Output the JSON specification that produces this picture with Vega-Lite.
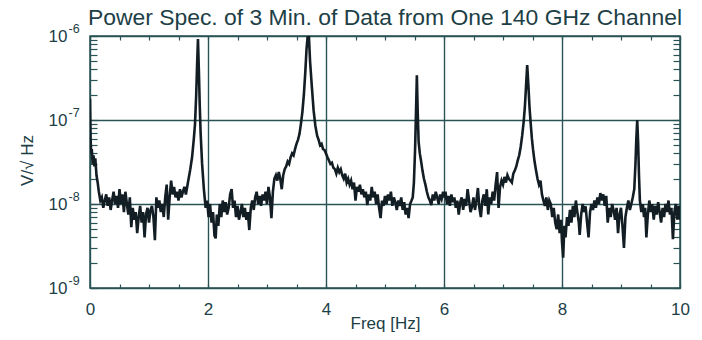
{
  "$schema": "https://vega.github.io/schema/vega-lite/v6.json",
  "width": 590,
  "height": 252,
  "autosize": {"type": "none"},
  "padding": {"left": 90, "top": 36, "right": 22, "bottom": 52},
  "background": "white",
  "config": {"view": {"stroke": "#2a5356", "strokeWidth": 1.5}, "font": "Liberation Sans"},
  "title": {"text": "Power Spec. of 3 Min. of Data from One 140 GHz Channel", "fontSize": 22.9, "font": "Liberation Sans", "fontWeight": "normal", "color": "#1d4046", "anchor": "middle", "frame": "group", "baseline": "alphabetic", "offset": 10, "dy": 36},
  "datasets": {
    "spectrum": [
      {"freq": 0, "amp": 180e-9}, {"freq": 0.01, "amp": 60e-9}, {"freq": 0.02, "amp": 40e-9}, {"freq": 0.03, "amp": 45e-9},
      {"freq": 0.045, "amp": 30e-9}, {"freq": 0.06, "amp": 38e-9}, {"freq": 0.075, "amp": 28e-9}, {"freq": 0.09, "amp": 35e-9},
      {"freq": 0.11, "amp": 22e-9}, {"freq": 0.13, "amp": 18e-9}, {"freq": 0.15, "amp": 14e-9}, {"freq": 0.175, "amp": 11e-9},
      {"freq": 0.2, "amp": 12e-9}, {"freq": 0.225, "amp": 9e-9}, {"freq": 0.25, "amp": 11e-9}, {"freq": 0.275, "amp": 13e-9},
      {"freq": 0.3, "amp": 9.5e-9}, {"freq": 0.325, "amp": 12e-9}, {"freq": 0.35, "amp": 8.5e-9}, {"freq": 0.375, "amp": 11e-9},
      {"freq": 0.4, "amp": 14e-9}, {"freq": 0.425, "amp": 10e-9}, {"freq": 0.45, "amp": 12.5e-9}, {"freq": 0.475, "amp": 9e-9},
      {"freq": 0.5, "amp": 15e-9}, {"freq": 0.525, "amp": 10e-9}, {"freq": 0.55, "amp": 13e-9}, {"freq": 0.575, "amp": 8e-9},
      {"freq": 0.6, "amp": 14e-9}, {"freq": 0.625, "amp": 10e-9}, {"freq": 0.65, "amp": 7.5e-9}, {"freq": 0.675, "amp": 12e-9},
      {"freq": 0.7, "amp": 5.3e-9}, {"freq": 0.725, "amp": 9e-9}, {"freq": 0.75, "amp": 6.5e-9}, {"freq": 0.775, "amp": 8e-9},
      {"freq": 0.8, "amp": 4.5e-9}, {"freq": 0.825, "amp": 7e-9}, {"freq": 0.85, "amp": 9.5e-9}, {"freq": 0.875, "amp": 6e-9},
      {"freq": 0.9, "amp": 8e-9}, {"freq": 0.925, "amp": 4e-9}, {"freq": 0.95, "amp": 7.5e-9}, {"freq": 0.975, "amp": 9e-9},
      {"freq": 1.0, "amp": 6e-9}, {"freq": 1.025, "amp": 8.5e-9}, {"freq": 1.05, "amp": 9.5e-9}, {"freq": 1.075, "amp": 7e-9},
      {"freq": 1.1, "amp": 3.7e-9}, {"freq": 1.125, "amp": 12e-9}, {"freq": 1.15, "amp": 9e-9}, {"freq": 1.175, "amp": 11e-9},
      {"freq": 1.2, "amp": 8e-9}, {"freq": 1.225, "amp": 10e-9}, {"freq": 1.25, "amp": 7e-9}, {"freq": 1.275, "amp": 12e-9},
      {"freq": 1.3, "amp": 17e-9}, {"freq": 1.325, "amp": 6.5e-9}, {"freq": 1.35, "amp": 12e-9}, {"freq": 1.375, "amp": 19e-9},
      {"freq": 1.4, "amp": 13e-9}, {"freq": 1.425, "amp": 16e-9}, {"freq": 1.45, "amp": 12e-9}, {"freq": 1.475, "amp": 14e-9},
      {"freq": 1.5, "amp": 11e-9}, {"freq": 1.525, "amp": 15e-9}, {"freq": 1.55, "amp": 12e-9}, {"freq": 1.575, "amp": 14e-9},
      {"freq": 1.6, "amp": 16e-9}, {"freq": 1.625, "amp": 13e-9}, {"freq": 1.66, "amp": 18e-9}, {"freq": 1.7, "amp": 26e-9},
      {"freq": 1.73, "amp": 36e-9}, {"freq": 1.76, "amp": 60e-9}, {"freq": 1.78, "amp": 90e-9}, {"freq": 1.8, "amp": 200e-9},
      {"freq": 1.815, "amp": 450e-9}, {"freq": 1.83, "amp": 920e-9}, {"freq": 1.845, "amp": 400e-9}, {"freq": 1.86, "amp": 150e-9},
      {"freq": 1.875, "amp": 70e-9}, {"freq": 1.9, "amp": 30e-9}, {"freq": 1.93, "amp": 15e-9}, {"freq": 1.96, "amp": 9e-9},
      {"freq": 1.985, "amp": 11e-9}, {"freq": 2.01, "amp": 7e-9}, {"freq": 2.035, "amp": 10e-9}, {"freq": 2.06, "amp": 6e-9},
      {"freq": 2.085, "amp": 8e-9}, {"freq": 2.11, "amp": 4.2e-9}, {"freq": 2.13, "amp": 3.9e-9}, {"freq": 2.15, "amp": 7.5e-9},
      {"freq": 2.175, "amp": 5.5e-9}, {"freq": 2.2, "amp": 10e-9}, {"freq": 2.225, "amp": 7e-9}, {"freq": 2.25, "amp": 11e-9},
      {"freq": 2.275, "amp": 8e-9}, {"freq": 2.3, "amp": 10.5e-9}, {"freq": 2.325, "amp": 7.5e-9}, {"freq": 2.35, "amp": 9e-9},
      {"freq": 2.375, "amp": 13e-9}, {"freq": 2.4, "amp": 15e-9}, {"freq": 2.425, "amp": 9e-9}, {"freq": 2.45, "amp": 11e-9},
      {"freq": 2.475, "amp": 7e-9}, {"freq": 2.5, "amp": 9.5e-9}, {"freq": 2.525, "amp": 6.5e-9}, {"freq": 2.55, "amp": 8e-9},
      {"freq": 2.575, "amp": 10e-9}, {"freq": 2.6, "amp": 7e-9}, {"freq": 2.625, "amp": 9e-9}, {"freq": 2.65, "amp": 6.5e-9},
      {"freq": 2.675, "amp": 8e-9}, {"freq": 2.7, "amp": 4.9e-9}, {"freq": 2.725, "amp": 9e-9}, {"freq": 2.75, "amp": 11e-9},
      {"freq": 2.775, "amp": 8.5e-9}, {"freq": 2.8, "amp": 12e-9}, {"freq": 2.825, "amp": 14e-9}, {"freq": 2.85, "amp": 10e-9},
      {"freq": 2.875, "amp": 12.5e-9}, {"freq": 2.9, "amp": 9.5e-9}, {"freq": 2.925, "amp": 13e-9}, {"freq": 2.95, "amp": 11e-9},
      {"freq": 2.975, "amp": 14e-9}, {"freq": 3.0, "amp": 10e-9}, {"freq": 3.025, "amp": 16e-9}, {"freq": 3.05, "amp": 12e-9},
      {"freq": 3.075, "amp": 6.8e-9}, {"freq": 3.1, "amp": 14e-9}, {"freq": 3.125, "amp": 20e-9}, {"freq": 3.15, "amp": 22e-9},
      {"freq": 3.175, "amp": 19e-9}, {"freq": 3.2, "amp": 24e-9}, {"freq": 3.225, "amp": 20e-9}, {"freq": 3.25, "amp": 15e-9},
      {"freq": 3.275, "amp": 22e-9}, {"freq": 3.3, "amp": 26e-9}, {"freq": 3.325, "amp": 28e-9}, {"freq": 3.35, "amp": 32e-9},
      {"freq": 3.375, "amp": 30e-9}, {"freq": 3.4, "amp": 36e-9}, {"freq": 3.425, "amp": 40e-9}, {"freq": 3.45, "amp": 38e-9},
      {"freq": 3.475, "amp": 45e-9}, {"freq": 3.5, "amp": 52e-9}, {"freq": 3.525, "amp": 58e-9}, {"freq": 3.55, "amp": 68e-9},
      {"freq": 3.575, "amp": 90e-9}, {"freq": 3.6, "amp": 125e-9}, {"freq": 3.625, "amp": 200e-9}, {"freq": 3.65, "amp": 380e-9},
      {"freq": 3.67, "amp": 700e-9}, {"freq": 3.69, "amp": 1000e-9}, {"freq": 3.71, "amp": 1000e-9}, {"freq": 3.73, "amp": 500e-9},
      {"freq": 3.76, "amp": 250e-9}, {"freq": 3.79, "amp": 130e-9}, {"freq": 3.82, "amp": 85e-9}, {"freq": 3.85, "amp": 65e-9},
      {"freq": 3.875, "amp": 58e-9}, {"freq": 3.9, "amp": 50e-9}, {"freq": 3.925, "amp": 52e-9}, {"freq": 3.95, "amp": 45e-9},
      {"freq": 3.975, "amp": 44e-9}, {"freq": 4.0, "amp": 40e-9}, {"freq": 4.025, "amp": 36e-9}, {"freq": 4.05, "amp": 33e-9},
      {"freq": 4.075, "amp": 30e-9}, {"freq": 4.1, "amp": 31e-9}, {"freq": 4.125, "amp": 27e-9}, {"freq": 4.15, "amp": 26e-9},
      {"freq": 4.175, "amp": 23e-9}, {"freq": 4.2, "amp": 27e-9}, {"freq": 4.225, "amp": 24e-9}, {"freq": 4.25, "amp": 26e-9},
      {"freq": 4.275, "amp": 22e-9}, {"freq": 4.3, "amp": 20e-9}, {"freq": 4.325, "amp": 23e-9}, {"freq": 4.35, "amp": 18e-9},
      {"freq": 4.375, "amp": 20e-9}, {"freq": 4.4, "amp": 17e-9}, {"freq": 4.425, "amp": 19e-9}, {"freq": 4.45, "amp": 15e-9},
      {"freq": 4.475, "amp": 18e-9}, {"freq": 4.5, "amp": 11e-9}, {"freq": 4.525, "amp": 16e-9}, {"freq": 4.55, "amp": 14e-9},
      {"freq": 4.575, "amp": 17e-9}, {"freq": 4.6, "amp": 13e-9}, {"freq": 4.625, "amp": 15e-9}, {"freq": 4.65, "amp": 12e-9},
      {"freq": 4.675, "amp": 14e-9}, {"freq": 4.7, "amp": 9.7e-9}, {"freq": 4.725, "amp": 13e-9}, {"freq": 4.75, "amp": 11e-9},
      {"freq": 4.775, "amp": 16e-9}, {"freq": 4.8, "amp": 12e-9}, {"freq": 4.825, "amp": 14e-9}, {"freq": 4.85, "amp": 10e-9},
      {"freq": 4.875, "amp": 13e-9}, {"freq": 4.9, "amp": 9e-9}, {"freq": 4.925, "amp": 6.8e-9}, {"freq": 4.95, "amp": 11e-9},
      {"freq": 4.975, "amp": 9.5e-9}, {"freq": 5.0, "amp": 12.5e-9}, {"freq": 5.025, "amp": 10e-9}, {"freq": 5.05, "amp": 13e-9},
      {"freq": 5.075, "amp": 11e-9}, {"freq": 5.1, "amp": 14e-9}, {"freq": 5.125, "amp": 9.5e-9}, {"freq": 5.15, "amp": 12e-9},
      {"freq": 5.175, "amp": 10.5e-9}, {"freq": 5.2, "amp": 8.5e-9}, {"freq": 5.225, "amp": 11e-9}, {"freq": 5.25, "amp": 9.5e-9},
      {"freq": 5.275, "amp": 12e-9}, {"freq": 5.3, "amp": 8.5e-9}, {"freq": 5.325, "amp": 10.5e-9}, {"freq": 5.35, "amp": 7.5e-9},
      {"freq": 5.375, "amp": 9e-9}, {"freq": 5.4, "amp": 6.8e-9}, {"freq": 5.425, "amp": 10e-9}, {"freq": 5.45, "amp": 11e-9},
      {"freq": 5.47, "amp": 12e-9}, {"freq": 5.49, "amp": 18e-9}, {"freq": 5.51, "amp": 45e-9}, {"freq": 5.525, "amp": 120e-9},
      {"freq": 5.54, "amp": 340e-9}, {"freq": 5.555, "amp": 120e-9}, {"freq": 5.57, "amp": 55e-9}, {"freq": 5.59, "amp": 40e-9},
      {"freq": 5.61, "amp": 33e-9}, {"freq": 5.635, "amp": 25e-9}, {"freq": 5.66, "amp": 20e-9}, {"freq": 5.685, "amp": 17e-9},
      {"freq": 5.71, "amp": 14e-9}, {"freq": 5.735, "amp": 12e-9}, {"freq": 5.76, "amp": 11e-9}, {"freq": 5.785, "amp": 9.7e-9},
      {"freq": 5.81, "amp": 13e-9}, {"freq": 5.835, "amp": 11e-9}, {"freq": 5.86, "amp": 14e-9}, {"freq": 5.885, "amp": 12e-9},
      {"freq": 5.91, "amp": 10e-9}, {"freq": 5.935, "amp": 13e-9}, {"freq": 5.96, "amp": 11.5e-9}, {"freq": 5.985, "amp": 14e-9},
      {"freq": 6.0, "amp": 12e-9}, {"freq": 6.025, "amp": 14e-9}, {"freq": 6.05, "amp": 10e-9}, {"freq": 6.075, "amp": 12.5e-9},
      {"freq": 6.1, "amp": 9.5e-9}, {"freq": 6.125, "amp": 13e-9}, {"freq": 6.15, "amp": 10.5e-9}, {"freq": 6.175, "amp": 12e-9},
      {"freq": 6.2, "amp": 9e-9}, {"freq": 6.225, "amp": 11e-9}, {"freq": 6.25, "amp": 7.5e-9}, {"freq": 6.275, "amp": 10.5e-9},
      {"freq": 6.3, "amp": 12e-9}, {"freq": 6.325, "amp": 8.5e-9}, {"freq": 6.35, "amp": 11.5e-9}, {"freq": 6.375, "amp": 9.5e-9},
      {"freq": 6.4, "amp": 15e-9}, {"freq": 6.425, "amp": 11e-9}, {"freq": 6.45, "amp": 8e-9}, {"freq": 6.475, "amp": 9.3e-9},
      {"freq": 6.5, "amp": 12e-9}, {"freq": 6.525, "amp": 8.5e-9}, {"freq": 6.55, "amp": 11e-9}, {"freq": 6.575, "amp": 15.5e-9},
      {"freq": 6.6, "amp": 9e-9}, {"freq": 6.625, "amp": 7e-9}, {"freq": 6.65, "amp": 11e-9}, {"freq": 6.675, "amp": 13e-9},
      {"freq": 6.7, "amp": 9.5e-9}, {"freq": 6.725, "amp": 15e-9}, {"freq": 6.75, "amp": 7.5e-9}, {"freq": 6.775, "amp": 12e-9},
      {"freq": 6.8, "amp": 10e-9}, {"freq": 6.825, "amp": 14e-9}, {"freq": 6.85, "amp": 11e-9}, {"freq": 6.875, "amp": 17e-9},
      {"freq": 6.9, "amp": 24e-9}, {"freq": 6.925, "amp": 9e-9}, {"freq": 6.95, "amp": 16e-9}, {"freq": 6.975, "amp": 19e-9},
      {"freq": 7.0, "amp": 17e-9}, {"freq": 7.025, "amp": 21e-9}, {"freq": 7.05, "amp": 18e-9}, {"freq": 7.075, "amp": 22e-9},
      {"freq": 7.1, "amp": 20e-9}, {"freq": 7.125, "amp": 19e-9}, {"freq": 7.15, "amp": 18e-9}, {"freq": 7.175, "amp": 23e-9},
      {"freq": 7.2, "amp": 25e-9}, {"freq": 7.225, "amp": 28e-9}, {"freq": 7.25, "amp": 33e-9}, {"freq": 7.275, "amp": 38e-9},
      {"freq": 7.3, "amp": 48e-9}, {"freq": 7.325, "amp": 65e-9}, {"freq": 7.35, "amp": 95e-9}, {"freq": 7.37, "amp": 140e-9},
      {"freq": 7.39, "amp": 250e-9}, {"freq": 7.41, "amp": 450e-9}, {"freq": 7.43, "amp": 260e-9}, {"freq": 7.45, "amp": 140e-9},
      {"freq": 7.47, "amp": 90e-9}, {"freq": 7.49, "amp": 60e-9}, {"freq": 7.51, "amp": 44e-9}, {"freq": 7.535, "amp": 32e-9},
      {"freq": 7.56, "amp": 25e-9}, {"freq": 7.585, "amp": 20e-9}, {"freq": 7.61, "amp": 17e-9}, {"freq": 7.635, "amp": 19e-9},
      {"freq": 7.66, "amp": 13e-9}, {"freq": 7.685, "amp": 11e-9}, {"freq": 7.71, "amp": 9.5e-9}, {"freq": 7.735, "amp": 12e-9},
      {"freq": 7.76, "amp": 8.5e-9}, {"freq": 7.785, "amp": 11e-9}, {"freq": 7.81, "amp": 10e-9}, {"freq": 7.835, "amp": 7e-9},
      {"freq": 7.86, "amp": 9e-9}, {"freq": 7.885, "amp": 6e-9}, {"freq": 7.91, "amp": 5e-9}, {"freq": 7.935, "amp": 7.5e-9},
      {"freq": 7.96, "amp": 4.5e-9}, {"freq": 7.985, "amp": 6.5e-9}, {"freq": 8.0, "amp": 3.5e-9}, {"freq": 8.02, "amp": 2.3e-9},
      {"freq": 8.04, "amp": 5.5e-9}, {"freq": 8.06, "amp": 4e-9}, {"freq": 8.085, "amp": 7e-9}, {"freq": 8.11, "amp": 5.5e-9},
      {"freq": 8.135, "amp": 8.5e-9}, {"freq": 8.16, "amp": 6e-9}, {"freq": 8.185, "amp": 9.5e-9}, {"freq": 8.21, "amp": 7e-9},
      {"freq": 8.235, "amp": 11e-9}, {"freq": 8.26, "amp": 8e-9}, {"freq": 8.285, "amp": 6e-9}, {"freq": 8.3, "amp": 4.3e-9},
      {"freq": 8.325, "amp": 7.5e-9}, {"freq": 8.35, "amp": 10e-9}, {"freq": 8.375, "amp": 8e-9}, {"freq": 8.4, "amp": 9.4e-9},
      {"freq": 8.425, "amp": 6e-9}, {"freq": 8.45, "amp": 4e-9}, {"freq": 8.475, "amp": 8e-9}, {"freq": 8.5, "amp": 10e-9},
      {"freq": 8.525, "amp": 8.5e-9}, {"freq": 8.55, "amp": 11e-9}, {"freq": 8.575, "amp": 9e-9}, {"freq": 8.6, "amp": 12e-9},
      {"freq": 8.625, "amp": 10e-9}, {"freq": 8.65, "amp": 13.5e-9}, {"freq": 8.675, "amp": 11e-9}, {"freq": 8.7, "amp": 13e-9},
      {"freq": 8.725, "amp": 9.5e-9}, {"freq": 8.75, "amp": 12.5e-9}, {"freq": 8.775, "amp": 6e-9}, {"freq": 8.8, "amp": 9e-9},
      {"freq": 8.825, "amp": 7e-9}, {"freq": 8.85, "amp": 10e-9}, {"freq": 8.875, "amp": 8.4e-9}, {"freq": 8.9, "amp": 6.5e-9},
      {"freq": 8.925, "amp": 9e-9}, {"freq": 8.95, "amp": 4.5e-9}, {"freq": 8.975, "amp": 7.5e-9}, {"freq": 9.0, "amp": 9e-9},
      {"freq": 9.025, "amp": 5.5e-9}, {"freq": 9.05, "amp": 3e-9}, {"freq": 9.075, "amp": 7e-9}, {"freq": 9.1, "amp": 9e-9},
      {"freq": 9.125, "amp": 11e-9}, {"freq": 9.15, "amp": 8.5e-9}, {"freq": 9.175, "amp": 10e-9}, {"freq": 9.2, "amp": 12e-9},
      {"freq": 9.225, "amp": 15e-9}, {"freq": 9.245, "amp": 30e-9}, {"freq": 9.26, "amp": 60e-9}, {"freq": 9.275, "amp": 100e-9},
      {"freq": 9.29, "amp": 55e-9}, {"freq": 9.305, "amp": 22e-9}, {"freq": 9.32, "amp": 11e-9}, {"freq": 9.345, "amp": 8e-9},
      {"freq": 9.37, "amp": 10e-9}, {"freq": 9.39, "amp": 7e-9}, {"freq": 9.41, "amp": 9e-9}, {"freq": 9.43, "amp": 4e-9},
      {"freq": 9.455, "amp": 7.5e-9}, {"freq": 9.48, "amp": 11e-9}, {"freq": 9.505, "amp": 8e-9}, {"freq": 9.53, "amp": 10e-9},
      {"freq": 9.555, "amp": 6.5e-9}, {"freq": 9.58, "amp": 9.5e-9}, {"freq": 9.605, "amp": 7.5e-9}, {"freq": 9.63, "amp": 10.5e-9},
      {"freq": 9.655, "amp": 8e-9}, {"freq": 9.68, "amp": 6e-9}, {"freq": 9.705, "amp": 9e-9}, {"freq": 9.73, "amp": 7e-9},
      {"freq": 9.755, "amp": 10e-9}, {"freq": 9.78, "amp": 8e-9}, {"freq": 9.805, "amp": 11e-9}, {"freq": 9.83, "amp": 7.5e-9},
      {"freq": 9.855, "amp": 9e-9}, {"freq": 9.88, "amp": 3.8e-9}, {"freq": 9.905, "amp": 8e-9}, {"freq": 9.93, "amp": 10e-9},
      {"freq": 9.955, "amp": 6.5e-9}, {"freq": 9.98, "amp": 9.5e-9}, {"freq": 10.0, "amp": 6.5e-9}
    ]
  },
  "data": {"name": "spectrum"},
  "layer": [
    {
      "mark": {"type": "line", "color": "#131d24", "strokeWidth": 2.6, "clip": true},
      "encoding": {
        "x": {
          "field": "freq", "type": "quantitative",
          "scale": {"domain": [0, 10], "nice": false, "zero": false},
          "axis": {
            "orient": "bottom",
            "values": [0, 0.5, 1, 1.5, 2, 2.5, 3, 3.5, 4, 4.5, 5, 5.5, 6, 6.5, 7, 7.5, 8, 8.5, 9, 9.5, 10],
            "labelExpr": "datum.value % 2 === 0 ? '' + datum.value : ''",
            "labelFlush": false, "labelOverlap": false,
            "labelFont": "Liberation Sans", "labelFontSize": 17, "labelColor": "#1d4046", "labelPadding": 17,
            "grid": true, "gridColor": "#2a5356", "gridWidth": 1.4,
            "gridOpacity": {"condition": {"test": "datum.value % 2 === 0", "value": 1}, "value": 0},
            "ticks": true, "tickSize": -4, "tickColor": "#2a5356", "tickWidth": 1.2,
            "domain": false,
            "title": "Freq [Hz]", "titleFont": "Liberation Sans", "titleFontSize": 17, "titleFontWeight": "normal", "titleColor": "#1d4046",
            "titleX": 295, "titleY": 35, "titleBaseline": "middle", "titleAlign": "center"
          }
        },
        "y": {
          "field": "amp", "type": "quantitative",
          "scale": {"type": "log", "domain": [1e-9, 1e-6], "nice": false},
          "axis": {
            "orient": "left",
            "values": [1e-9, 2e-9, 3e-9, 4e-9, 5e-9, 6e-9, 7e-9, 8e-9, 9e-9, 1e-8, 2e-8, 3e-8, 4e-8, 5e-8, 6e-8, 7e-8, 8e-8, 9e-8, 1e-7, 2e-7, 3e-7, 4e-7, 5e-7, 6e-7, 7e-7, 8e-7, 9e-7, 1e-6],
            "labelExpr": "abs(log(datum.value)/LN10 - round(log(datum.value)/LN10)) < 0.001 ? '10' : ''",
            "labelOverlap": false, "labelFlush": false, "labelAlign": "right", "labelBaseline": "middle",
            "labelFont": "Liberation Sans", "labelFontSize": 17, "labelColor": "#1d4046", "labelPadding": 30,
            "grid": true, "gridColor": "#2a5356", "gridWidth": 1.4,
            "gridOpacity": {"condition": {"test": "abs(log(datum.value)/LN10 - round(log(datum.value)/LN10)) < 0.001", "value": 1}, "value": 0},
            "ticks": true, "tickSize": -7, "tickColor": "#2a5356", "tickWidth": 1.2,
            "domain": false,
            "title": "V/√ Hz", "titleFont": "Liberation Sans", "titleFontSize": 17, "titleFontWeight": "normal", "titleColor": "#1d4046",
            "titleX": -63, "titleY": 124, "titleAngle": -90, "titleBaseline": "middle", "titleAlign": "center"
          }
        }
      }
    },
    {
      "mark": {"type": "line", "opacity": 0, "clip": true},
      "encoding": {
        "x": {
          "field": "freq", "type": "quantitative",
          "scale": {"domain": [0, 10], "nice": false, "zero": false},
          "axis": {
            "orient": "top",
            "values": [0, 0.5, 1, 1.5, 2, 2.5, 3, 3.5, 4, 4.5, 5, 5.5, 6, 6.5, 7, 7.5, 8, 8.5, 9, 9.5, 10],
            "labels": false, "grid": false, "domain": false, "title": null,
            "ticks": true, "tickSize": -4, "tickColor": "#2a5356", "tickWidth": 1.2
          }
        },
        "y": {
          "field": "amp", "type": "quantitative",
          "scale": {"type": "log", "domain": [1e-9, 1e-6], "nice": false},
          "axis": {
            "orient": "right",
            "values": [1e-9, 2e-9, 3e-9, 4e-9, 5e-9, 6e-9, 7e-9, 8e-9, 9e-9, 1e-8, 2e-8, 3e-8, 4e-8, 5e-8, 6e-8, 7e-8, 8e-8, 9e-8, 1e-7, 2e-7, 3e-7, 4e-7, 5e-7, 6e-7, 7e-7, 8e-7, 9e-7, 1e-6],
            "labels": false, "grid": false, "domain": false, "title": null,
            "ticks": true, "tickSize": -7, "tickColor": "#2a5356", "tickWidth": 1.2
          }
        }
      }
    },
    {
      "mark": {"type": "line", "opacity": 0, "clip": true},
      "encoding": {
        "x": {
          "field": "freq", "type": "quantitative",
          "scale": {"domain": [0, 10], "nice": false, "zero": false},
          "axis": null
        },
        "y": {
          "field": "amp", "type": "quantitative",
          "scale": {"type": "log", "domain": [1e-9, 1e-6], "nice": false},
          "axis": {
            "orient": "left",
            "values": [1e-9, 1e-8, 1e-7, 1e-6],
            "labelExpr": "'-' + round(-log(datum.value)/LN10)",
            "labelOverlap": false, "labelFlush": false, "labelAlign": "left", "labelBaseline": "middle",
            "labelFont": "Liberation Sans", "labelFontSize": 12.5, "labelColor": "#1d4046", "labelPadding": 22, "labelOffset": -8,
            "grid": false, "ticks": false, "domain": false, "title": null
          }
        }
      }
    }
  ],
  "resolve": {"axis": {"x": "independent", "y": "independent"}}
}
